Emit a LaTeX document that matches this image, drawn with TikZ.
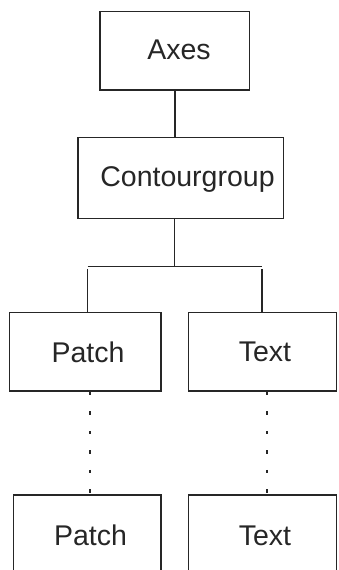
\documentclass[tikz,border=0pt]{standalone}
\usepackage{fontspec}
\setmainfont{Liberation Sans}
\begin{document}
\begin{tikzpicture}[x=1bp,y=-1bp,
  box/.style={draw=black!85,line width=1.5bp,rectangle,inner sep=0pt},
  lbl/.style={inner sep=0pt,anchor=base,font=\fontsize{28.5bp}{30bp}\selectfont,text=black!85},
  conn/.style={draw=black!85,line width=1.5bp},
  dotconn/.style={draw=black!85,line width=1.5bp,dash pattern=on 3.5bp off 16bp}]
\useasboundingbox (0,0) rectangle (338,570);
\clip (0,0) rectangle (338,570);
\node[box,minimum width=149.7bp,minimum height=78.3bp] (axes) at (174.85,50.85) {};
\node[box,minimum width=205.7bp,minimum height=81bp] (cg) at (180.85,178.2) {};
\node[box,minimum width=151.7bp,minimum height=78.3bp] (patch) at (85.2,351.85) {};
\node[box,minimum width=148bp,minimum height=78.3bp] (text) at (262.7,351.85) {};
\node[box,minimum width=147.7bp,minimum height=78.3bp] (patch2) at (87.2,534.15) {};
\node[box,minimum width=148bp,minimum height=78.3bp] (text2) at (262.7,534.15) {};
\node[lbl] (axesT) at (179,59.3) {Axes};
\node[lbl] (cgT) at (187.5,186.7) {Contourgroup};
\node[lbl] (patchT) at (88,362) {Patch};
\node[lbl] (textT) at (265,361.7) {Text};
\node[lbl] (patch2T) at (90.5,545) {Patch};
\node[lbl] (text2T) at (265,545) {Text};
\coordinate (bus) at (174.7,266.7);
\coordinate (busL) at (87.5,266.7);
\coordinate (busR) at (262,266.7);
\draw[conn] (axes.south) -- (axes.south |- cg.north);
\draw[conn] (bus |- cg.south) -- (bus);
\draw[conn] (busL) -- (busR);
\draw[conn] ([yshift=-2.5bp]busL) -- (busL |- patch.north);
\draw[conn] ([yshift=-2.5bp]busR) -- (busR |- text.north);
\coordinate (dl) at (90,391);
\coordinate (dr) at (267,391);
\draw[dotconn] (dl |- patch.south) -- (dl |- patch2.north);
\draw[dotconn] (dr |- text.south) -- (dr |- text2.north);
\end{tikzpicture}
\end{document}
